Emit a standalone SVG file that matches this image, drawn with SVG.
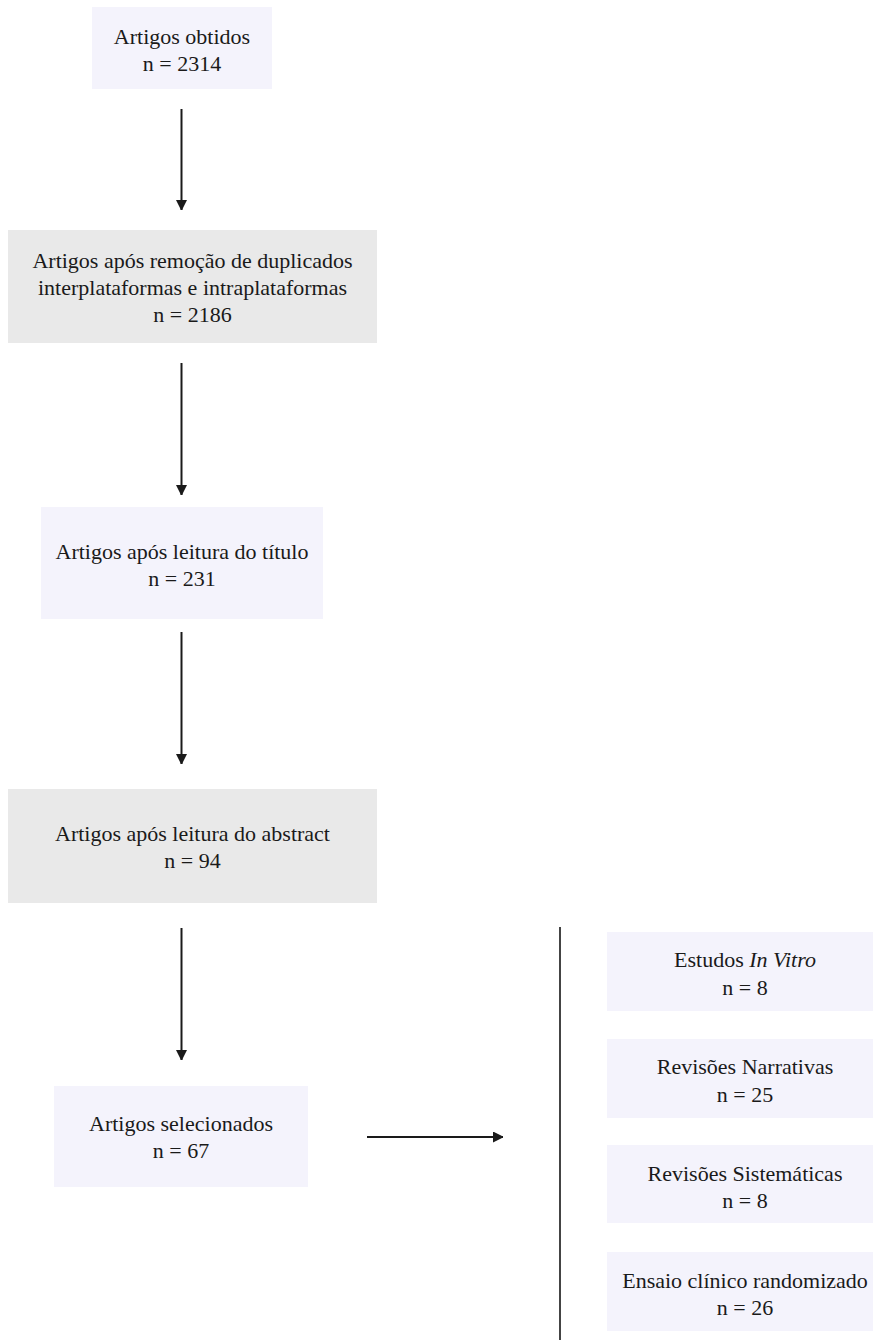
<svg xmlns="http://www.w3.org/2000/svg" width="873" height="1340" viewBox="0 0 873 1340">
<style>
text{font-family:"Times New Roman","Liberation Serif",serif;font-size:22px;fill:#1a1a1a;text-anchor:middle}
.lav{fill:#f4f3fc}
.gray{fill:#e9e9e9}
.con{stroke:#1a1a1a;stroke-width:2;fill:none}
.bar{stroke:#444;stroke-width:2;fill:none}
</style>
<defs>
<marker id="ah" markerWidth="10" markerHeight="11" refX="10" refY="5.5" orient="auto" markerUnits="userSpaceOnUse">
<path d="M0,0 L11,5.5 L0,11 Z" fill="#1a1a1a"/>
</marker>
</defs>
<rect width="873" height="1340" fill="#ffffff"/>
<g id="n1"><rect class="lav" x="92" y="7" width="180" height="82"/><text x="182" y="44">Artigos obtidos</text><text x="182" y="71">n = 2314</text></g>
<g id="n2"><rect class="gray" x="8" y="230" width="369" height="113"/><text x="192.5" y="268">Artigos após remoção de duplicados</text><text x="192.5" y="295">interplataformas e intraplataformas</text><text x="192.5" y="322">n = 2186</text></g>
<g id="n3"><rect class="lav" x="41" y="507" width="282" height="112"/><text x="182" y="559">Artigos após leitura do título</text><text x="182" y="586">n = 231</text></g>
<g id="n4"><rect class="gray" x="8" y="789" width="369" height="114"/><text x="192.5" y="841">Artigos após leitura do abstract</text><text x="192.5" y="868">n = 94</text></g>
<g id="n5"><rect class="lav" x="54" y="1086" width="254" height="101"/><text x="181" y="1131">Artigos selecionados</text><text x="181" y="1158">n = 67</text></g>
<g id="r1"><rect class="lav" x="607" y="932" width="277" height="79"/><text x="745" y="967">Estudos <tspan font-style="italic">In Vitro</tspan></text><text x="745" y="995">n = 8</text></g>
<g id="r2"><rect class="lav" x="607" y="1039" width="277" height="79"/><text x="745" y="1074">Revisões Narrativas</text><text x="745" y="1102">n = 25</text></g>
<g id="r3"><rect class="lav" x="607" y="1145" width="277" height="78"/><text x="745" y="1181">Revisões Sistemáticas</text><text x="745" y="1208">n = 8</text></g>
<g id="r4"><rect class="lav" x="607" y="1252" width="277" height="79"/><text x="745" y="1288">Ensaio clínico randomizado</text><text x="745" y="1315">n = 26</text></g>
<g id="connectors">
<line class="con" x1="181.5" y1="109" x2="181.5" y2="210" marker-end="url(#ah)"/>
<line class="con" x1="181.5" y1="363" x2="181.5" y2="495" marker-end="url(#ah)"/>
<line class="con" x1="181.5" y1="632" x2="181.5" y2="764" marker-end="url(#ah)"/>
<line class="con" x1="181.5" y1="928" x2="181.5" y2="1060" marker-end="url(#ah)"/>
<line class="con" x1="367" y1="1137" x2="503" y2="1137" marker-end="url(#ah)"/>
<line class="bar" x1="560" y1="927" x2="560" y2="1340"/>
</g>
</svg>
